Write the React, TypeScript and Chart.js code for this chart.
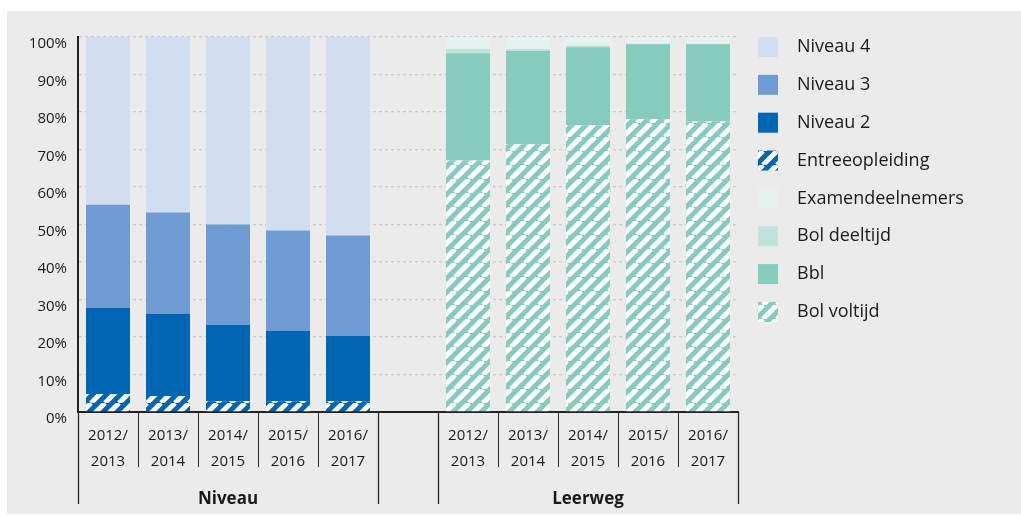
import React, { useEffect, useRef } from 'react';
import { Chart, registerables } from 'chart.js';

Chart.register(...registerables);

const categories: string[][] = [
  ['2012/', '2013'], ['2013/', '2014'], ['2014/', '2015'], ['2015/', '2016'], ['2016/', '2017'],
  [''],
  ['2012/', '2013'], ['2013/', '2014'], ['2014/', '2015'], ['2015/', '2016'], ['2016/', '2017'],
];
const groupNames = ['Niveau', 'Leerweg'];
const yTicks = [0, 10, 20, 30, 40, 50, 60, 70, 80, 90, 100];

// Niveau group (percentages)
const entree = [4.8, 4.3, 2.9, 2.9, 2.9];
const niveau2 = [23.0, 21.9, 20.4, 18.8, 17.4];
const niveau3 = [27.5, 27.0, 26.7, 26.7, 26.8];
const niveau4 = [44.7, 46.8, 50.0, 51.6, 52.9];

// Leerweg group (percentages)
const bolVoltijd = [67.1, 71.4, 76.5, 78.1, 77.5];
const bbl = [28.6, 24.9, 20.8, 20.0, 20.6];
const bolDeeltijd = [1.1, 0.5, 0.4, 0.1, 0.1];
const examen = [3.2, 3.2, 2.3, 1.8, 1.8];

const BG = '#ebebeb';
const TEXT = '#1a1a1a';
const FONT = "'Open Sans', 'Noto Sans', sans-serif";

function stripes(color: string): CanvasPattern | string {
  const s = 14;
  const c = document.createElement('canvas');
  c.width = s;
  c.height = s;
  const ctx = c.getContext('2d');
  if (!ctx) return color;
  ctx.fillStyle = color;
  ctx.fillRect(0, 0, s, s);
  ctx.strokeStyle = '#ffffff';
  ctx.lineWidth = 5;
  for (const x0 of [-s, 0, s]) {
    ctx.beginPath();
    ctx.moveTo(x0, s);
    ctx.lineTo(x0 + s, 0);
    ctx.stroke();
  }
  const p = ctx.createPattern(c, 'repeat');
  return p || color;
}

const leftPart = (v: number[]) => [...v, null, null, null, null, null, null];
const rightPart = (v: number[]) => [null, null, null, null, null, null, ...v];

const legendOrder = ['Niveau 4', 'Niveau 3', 'Niveau 2', 'Entreeopleiding', 'Examendeelnemers', 'Bol deeltijd', 'Bbl', 'Bol voltijd'];

const customPlugin = {
  id: 'customDecor',
  afterDraw(chart: any) {
    const ctx = chart.ctx as CanvasRenderingContext2D;
    const x = chart.scales.x;
    const area = chart.chartArea;
    const half = (x.getPixelForValue(1) - x.getPixelForValue(0)) / 2;
    const n = categories.length;
    ctx.save();
    // category separators
    for (let i = 0; i <= n; i++) {
      const px = (i < n ? x.getPixelForValue(i) : x.getPixelForValue(n - 1) + 2 * half) - half;
      const long = i === 0 || i === 5 || i === 6 || i === n;
      ctx.strokeStyle = '#2b2b2b';
      ctx.lineWidth = long ? 1.3 : 1;
      ctx.beginPath();
      ctx.moveTo(Math.round(px) + 0.5, area.bottom);
      ctx.lineTo(Math.round(px) + 0.5, area.bottom + (long ? 92 : 55));
      ctx.stroke();
    }
    // group labels
    ctx.fillStyle = TEXT;
    ctx.font = `bold 17px ${FONT}`;
    ctx.textAlign = 'center';
    ctx.textBaseline = 'middle';
    ctx.fillText(groupNames[0], x.getPixelForValue(2), area.bottom + 87);
    ctx.fillText(groupNames[1], x.getPixelForValue(8), area.bottom + 87);

    // legend
    const ds = chart.data.datasets;
    ctx.textAlign = 'left';
    ctx.font = `18px ${FONT}`;
    legendOrder.forEach((name, i) => {
      const d = ds.find((q: any) => q.label === name);
      const cy = area.top + 10 + i * 37.85;
      const bx = area.right + 20;
      ctx.fillStyle = d.backgroundColor;
      ctx.fillRect(bx, cy - 10, 20, 20);
      ctx.fillStyle = TEXT;
      ctx.fillText(name, bx + 39, cy);
    });
    ctx.restore();
  },
};

export default function App() {
  const ref = useRef<HTMLCanvasElement>(null);
  useEffect(() => {
    if (!ref.current) return;
    const chart = new Chart(ref.current, {
      type: 'bar',
      data: {
        labels: categories as any,
        datasets: [
          { label: 'Entreeopleiding', data: leftPart(entree), backgroundColor: stripes('#0066b3') as any },
          { label: 'Niveau 2', data: leftPart(niveau2), backgroundColor: '#0066b3' },
          { label: 'Niveau 3', data: leftPart(niveau3), backgroundColor: '#6f9bd3' },
          { label: 'Niveau 4', data: leftPart(niveau4), backgroundColor: '#d1ddf0' },
          { label: 'Bol voltijd', data: rightPart(bolVoltijd), backgroundColor: stripes('#87cbbf') as any },
          { label: 'Bbl', data: rightPart(bbl), backgroundColor: '#87cbbf' },
          { label: 'Bol deeltijd', data: rightPart(bolDeeltijd), backgroundColor: '#bfe2dc' },
          { label: 'Examendeelnemers', data: rightPart(examen), backgroundColor: '#e6f2f0' },
        ] as any,
      },
      options: {
        animation: false,
        responsive: true,
        maintainAspectRatio: false,
        events: [],
        layout: { padding: { left: 0, right: 283, top: 26, bottom: 28 } },
        datasets: { bar: { barPercentage: 44 / 60, categoryPercentage: 1, borderWidth: 0 } } as any,
        plugins: { legend: { display: false }, tooltip: { enabled: false } },
        scales: {
          x: {
            stacked: true,
            grid: { display: false, drawTicks: false },
            border: { display: true, color: '#222', width: 2 },
            ticks: {
              autoSkip: false,
              maxRotation: 0,
              padding: 11,
              color: TEXT,
              font: { family: FONT, size: 15, lineHeight: '26px' } as any,
            },
          },
          y: {
            stacked: true,
            min: 0,
            max: 100,
            afterFit: (s: any) => { s.width = 71; },
            afterBuildTicks: (s: any) => { s.ticks = yTicks.map((v) => ({ value: v })); },
            grid: { color: '#c9c9c9', lineWidth: 1.3, drawTicks: false },
            border: { display: true, color: '#222', width: 2, dash: [3, 3] },
            ticks: {
              padding: 11,
              labelOffset: 7,
              color: TEXT,
              font: { family: FONT, size: 15 },
              callback: (v: any) => `${v}%`,
            },
          },
        },
      },
      plugins: [customPlugin],
    });
    return () => chart.destroy();
  }, []);

  return (
    <div style={{ position: 'absolute', left: 7, top: 11, width: 1014, height: 503, background: BG }}>
      <canvas ref={ref} />
    </div>
  );
}
